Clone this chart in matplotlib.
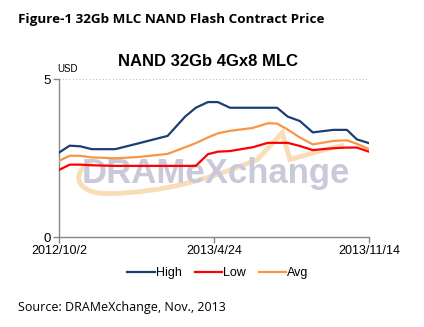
import matplotlib
matplotlib.use("Agg")
import matplotlib.pyplot as plt
from matplotlib.path import Path
from matplotlib.patches import PathPatch
import pandas as pd

dates = ["2012-10-02", "2012-10-16", "2012-10-30", "2012-11-14", "2012-12-15",
         "2013-01-14", "2013-02-22", "2013-03-17", "2013-03-31", "2013-04-16",
         "2013-04-29", "2013-05-15", "2013-06-14", "2013-07-04", "2013-07-16",
         "2013-07-30", "2013-08-15", "2013-09-01", "2013-09-28", "2013-10-16",
         "2013-10-29", "2013-11-14"]
high = [2.67, 2.89, 2.87, 2.78, 2.78, 2.96, 3.20, 3.81, 4.09, 4.27, 4.27,
        4.09, 4.09, 4.09, 4.09, 3.81, 3.67, 3.31, 3.39, 3.39, 3.09, 2.97]
low = [2.12, 2.29, 2.29, 2.27, 2.25, 2.25, 2.25, 2.25, 2.25, 2.62, 2.70,
       2.72, 2.84, 2.98, 2.98, 2.98, 2.88, 2.75, 2.81, 2.83, 2.83, 2.70]
avg = [2.41, 2.57, 2.57, 2.52, 2.49, 2.53, 2.63, 2.84, 2.97, 3.15, 3.28,
       3.36, 3.45, 3.60, 3.59, 3.40, 3.15, 2.93, 3.04, 3.06, 2.95, 2.78]
tick_dates = ["2012-10-02", "2013-04-24", "2013-11-14"]
tick_labels = ["2012/10/2", "2013/4/24", "2013/11/14"]
series_names = ["High", "Low", "Avg"]
colors = ["#1b3f73", "#ff0000", "#f79646"]

x = pd.to_datetime(dates)
W, H = 424, 327
fig = plt.figure(figsize=(W / 100, H / 100), dpi=100)
ax = fig.add_axes([59 / W, 1 - 237 / H, 310 / W, 158 / H])

# watermark
ax.text(0.505, 0.40, "DRAMeXchange", transform=ax.transAxes, ha="center", va="center",
        fontsize=25, fontweight="bold", color="#c9c9da", family="Liberation Sans", zorder=1)
verts = [(0.106, 0.475), (0.03, 0.40), (0.06, 0.27), (0.16, 0.275),
         (0.35, 0.28), (0.50, 0.38), (0.64, 0.49),
         (0.72, 0.66), (0.745, 0.49),
         (0.80, 0.52), (0.86, 0.56), (0.92, 0.58)]
codes = [Path.MOVETO, Path.CURVE4, Path.CURVE4, Path.CURVE4,
         Path.CURVE4, Path.CURVE4, Path.CURVE4,
         Path.LINETO, Path.LINETO,
         Path.CURVE4, Path.CURVE4, Path.CURVE4]
ax.add_patch(PathPatch(Path(verts, codes), facecolor="none", edgecolor="#f9d6ac",
                       lw=3.5, alpha=0.85, transform=ax.transAxes, zorder=0.9))

for vals, name, c in zip([high, low, avg], series_names, colors):
    ax.plot(x, vals, color=c, lw=1.6, label=name, zorder=3)

ax.set_xlim(pd.to_datetime(tick_dates[0]), pd.to_datetime(tick_dates[-1]))
ax.set_ylim(0, 5)
ax.set_yticks([0, 5])
ax.set_yticklabels(["0", "5"], fontsize=9.5, family="Liberation Sans")
ax.set_xticks(pd.to_datetime(tick_dates))
ax.set_xticklabels(tick_labels, fontsize=9, family="Liberation Sans")
ax.tick_params(axis="both", color="#888888", length=4, width=1, pad=2)
ax.axhline(5, color="#c0c0c0", lw=0.8, ls=(0, (1, 2)), zorder=1)
for s in ["top", "right"]:
    ax.spines[s].set_visible(False)
for s in ["left", "bottom"]:
    ax.spines[s].set_color("#888888")
    ax.spines[s].set_linewidth(1)

fig.text(57 / W, 1 - 69 / H, "USD", fontsize=7, family="Liberation Sans", va="center")
fig.text(208 / W, 1 - 62 / H, "NAND 32Gb 4Gx8 MLC", fontsize=12, fontweight="bold",
         family="Liberation Sans", ha="center", va="center")
fig.text(18 / W, 1 - 20 / H, "Figure-1 32Gb MLC NAND Flash Contract Price", fontsize=9.7,
         fontweight="bold", family="Open Sans", va="center")
fig.text(18 / W, 1 - 307 / H, "Source: DRAMeXchange, Nov., 2013", fontsize=9,
         family="Open Sans", va="center")

leg = fig.legend(loc="center", bbox_to_anchor=(218 / W, 1 - 273 / H), ncol=3, frameon=False,
                 prop={"family": "Liberation Sans", "size": 9}, handlelength=2.2,
                 handletextpad=0.1, columnspacing=1.0)

fig.savefig("out.png", dpi=100)
